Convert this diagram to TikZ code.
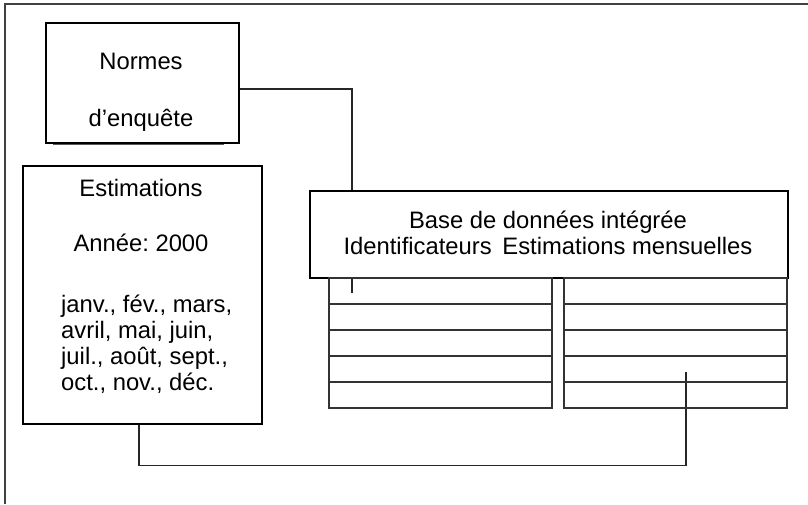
\documentclass[tikz,border=0pt]{standalone}
\usepackage{fontspec}
\setmainfont{Liberation Sans}
\usetikzlibrary{backgrounds}
\frenchspacing
\tikzset{
  /tikz/.cd,
  box/.style={draw,line width=1.8pt,fill=white,inner sep=0pt,anchor=north west},
  cell/.style={draw=black!80,line width=1.5pt,minimum width=223pt,minimum height=26pt,inner sep=0pt,anchor=north west}
}

\begin{document}
\begin{tikzpicture}[x=1pt,y=-1pt,
                    txt/.style={font=\fontsize{23.8}{26}\selectfont,inner sep=0pt},
                    link/.style={draw=black!85,line width=1.3pt}]
  \useasboundingbox (0,0) rectangle (808,504);
  \draw[black!75,line width=2pt] (4.5,504) |- (808,3.5);

  \draw[black!65,line width=3pt] (53,143.5) -- (224,143.5);
  \node[box,minimum width=193pt,minimum height=120pt] (normes) at (45,22) {};
  \node[txt,anchor=base] (normes1) at (141,69) {Normes};
  \node[txt,anchor=base] (normes2) at (141,126) {d’enquête};

  \node[box,minimum width=239pt,minimum height=258pt] (est) at (22,165) {};
  \node[txt,anchor=base] (est1) at (141,196) {Estimations};
  \node[txt,anchor=base] (est2) at (141,251) {Année: 2000};
  \node[txt,anchor=north west,align=left] (mois) at (61,295)
    {janv., fév., mars,\\avril, mai, juin,\\juil., août, sept.,\\oct., nov., déc.};

  \node[box,minimum width=478pt,minimum height=87pt] (base) at (309,190) {};
  \node[txt,anchor=north,align=center] (basetxt) at (548,210.5)
    {Base de données intégrée\\Identificateurs\hspace{0.45em}Estimations mensuelles};

  \foreach \i in {0,...,4}{
    \node[cell] (ident\i) at (328,{277+26*\i}) {};
    \node[cell] (mens\i) at (563,{277+26*\i}) {};
  }

  \coordinate (identend) at (352,293);
  \coordinate (mensend) at (686,372);
  \begin{scope}[on background layer]
    \draw[link] ([yshift=-6pt]normes.east) -| (identend);
    \draw[link] ([xshift=-3.5pt]est.south) -- ++(0,41) -| (mensend);
  \end{scope}
\end{tikzpicture}
\end{document}
